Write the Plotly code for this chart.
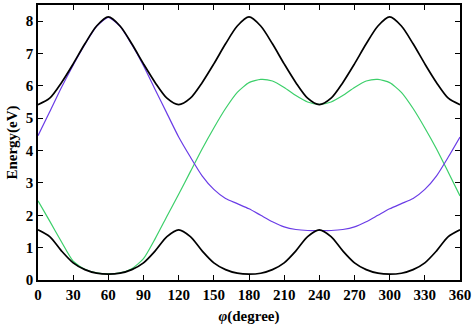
import plotly.graph_objects as go

phi = list(range(0, 361, 10))

black_upper = [5.42, 5.62, 6.10, 6.68, 7.30, 7.85, 8.13, 7.85, 7.30, 6.68, 6.10, 5.62,
               5.42, 5.62, 6.10, 6.68, 7.30, 7.85, 8.13, 7.85, 7.30, 6.68, 6.10, 5.62,
               5.42, 5.62, 6.10, 6.68, 7.30, 7.85, 8.13, 7.85, 7.30, 6.68, 6.10, 5.62,
               5.42]
black_lower = [1.55, 1.34, 0.90, 0.53, 0.32, 0.21, 0.18, 0.21, 0.32, 0.53, 0.90, 1.34,
               1.55, 1.34, 0.90, 0.53, 0.32, 0.21, 0.18, 0.21, 0.32, 0.53, 0.90, 1.34,
               1.55, 1.34, 0.90, 0.53, 0.32, 0.21, 0.18, 0.21, 0.32, 0.53, 0.90, 1.34,
               1.55]
green_band = [2.45, 1.82, 1.18, 0.58, 0.33, 0.22, 0.19, 0.22, 0.35, 0.66, 1.28, 1.97,
              2.65, 3.35, 4.05, 4.70, 5.30, 5.80, 6.10, 6.20, 6.15, 5.95, 5.70, 5.50,
              5.43, 5.50, 5.70, 5.95, 6.15, 6.20, 6.10, 5.80, 5.30, 4.70, 4.05, 3.33,
              2.60]
purple_band = [4.46, 5.20, 5.95, 6.64, 7.28, 7.84, 8.12, 7.84, 7.28, 6.62, 5.88, 5.15,
               4.42, 3.80, 3.22, 2.80, 2.52, 2.36, 2.20, 2.00, 1.80, 1.64, 1.56, 1.53,
               1.53, 1.53, 1.56, 1.64, 1.80, 2.00, 2.20, 2.36, 2.52, 2.80, 3.22, 3.80,
               4.42]

x_ticks = list(range(0, 361, 30))
y_ticks = list(range(0, 9, 1))

fig = go.Figure()
fig.add_trace(go.Scatter(x=phi, y=green_band, mode="lines",
                         line=dict(color="#3ccf6a", width=1.2, shape="spline", smoothing=0.6)))
fig.add_trace(go.Scatter(x=phi, y=purple_band, mode="lines",
                         line=dict(color="#6a3ce6", width=1.2, shape="spline", smoothing=0.6)))
fig.add_trace(go.Scatter(x=phi, y=black_upper, mode="lines",
                         line=dict(color="black", width=1.7, shape="spline", smoothing=0.8)))
fig.add_trace(go.Scatter(x=phi, y=black_lower, mode="lines",
                         line=dict(color="black", width=1.7, shape="spline", smoothing=0.8)))

tickfont = dict(family="Liberation Serif", size=15, color="black", weight="bold")
fig.update_layout(
    width=474, height=326,
    margin=dict(l=38, r=12, t=3, b=46),
    paper_bgcolor="white", plot_bgcolor="white",
    showlegend=False,
    xaxis=dict(range=[0, 360], tickvals=x_ticks, ticks="inside", ticklen=5,
               tickwidth=1.3, tickcolor="black", showline=True, linecolor="black",
               linewidth=1.6, mirror="ticks", showgrid=False, zeroline=False,
               tickfont=tickfont,
               title=dict(text="<i>φ</i>(degree)", font=dict(family="Liberation Serif", size=15,
                                                           color="black", weight="bold"),
                          standoff=9)),
    yaxis=dict(range=[0, 8.5], tickvals=y_ticks, ticks="inside", ticklen=5,
               tickwidth=1.3, tickcolor="black", showline=True, linecolor="black",
               linewidth=1.6, mirror="ticks", showgrid=False, zeroline=False,
               tickfont=tickfont,
               title=dict(text="Energy(eV)", font=dict(family="Liberation Serif", size=15,
                                                       color="black", weight="bold"),
                          standoff=4)),
)

fig.write_html("out.html", config={"displayModeBar": False},
               post_script="document.body.style.margin='0';document.body.style.overflow='hidden';")
